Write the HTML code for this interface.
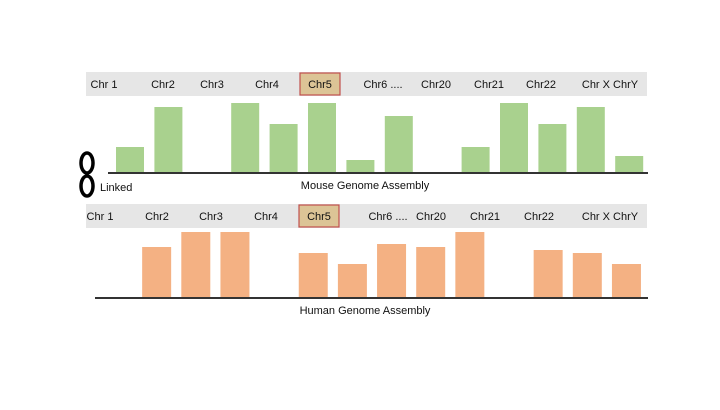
<!DOCTYPE html>
<html><head><meta charset="utf-8"><style>
body{margin:0;background:#fff;width:720px;height:405px;overflow:hidden}
svg text{font-family:"Liberation Sans",sans-serif;font-size:11px;fill:#111}
</style></head><body>
<svg id="c" width="720" height="405">
<g fill="none" stroke="#000" stroke-width="3.5">
<ellipse cx="87" cy="163" rx="6" ry="10"/>
<ellipse cx="87" cy="186" rx="6" ry="10"/>
</g>
<text x="100" y="191">Linked</text>
</svg>
<script>
const mouseChromLabels=["Chr 1","Chr2","Chr3","Chr4","Chr5","Chr6 ....","Chr20","Chr21","Chr22","Chr X ChrY"];
const mouseLabelX=[104,163,212,267,320,383,436,489,541,610];
const humanLabelX=[100,157,211,266,319,388,431,485,539,610];
const mouseValues=[25,65,0,69,48,69,12,56,0,25,69,48,65,16];
const humanValues=[0,50,65,65,0,44,33,53,50,65,0,47,44,33];
const svg=document.getElementById('c');const NS='http://www.w3.org/2000/svg';
function mk(t,a,p){const e=document.createElementNS(NS,t);for(const k in a)e.setAttribute(k,a[k]);(p||svg).appendChild(e);return e;}
function panel(y0,labelX,values,base,start,step,bw,color,lineX0,title,name){
  const band=mk('rect',{x:86,y:y0,width:561,height:24,fill:'#e6e6e6'});
  
  
  const hb=mk('rect',{x:labelX[4]-20,y:y0+1,width:40,height:22,fill:'#dcc496',stroke:'#c0504d','stroke-width':1.2});
  
  
  mouseChromLabels.forEach((l,i)=>{const t=mk('text',{x:labelX[i],y:y0+16,'text-anchor':'middle'});t.textContent=l;
    
    });
  values.forEach((v,i)=>{if(!v)return;const r=mk('rect',{x:start+i*step,y:base-v,width:bw,height:v,fill:color});
    
    });
  const ln=mk('line',{x1:lineX0,x2:648,y1:base+1,y2:base+1,stroke:'#333','stroke-width':2});
  
  
  const tt=mk('text',{x:365,y:base+17,'text-anchor':'middle'});tt.textContent=title;
  
  
}
panel(72,mouseLabelX,mouseValues,172,116,38.4,28,'#a9d18e',108,'Mouse Genome Assembly','mouse');
panel(204,humanLabelX,humanValues,297,103,39.15,29,'#f4b183',95,'Human Genome Assembly','human');
</script>
</body></html>
